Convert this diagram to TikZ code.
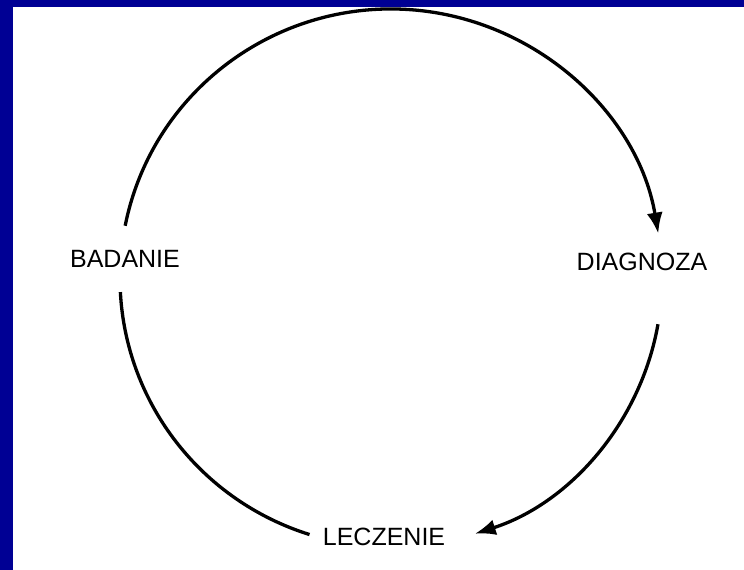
\documentclass[tikz,border=0pt]{standalone}
\usepackage{fontspec}
\setmainfont{Liberation Sans}
\usetikzlibrary{arrows.meta, calc}
\definecolor{slideblue}{RGB}{0,0,148}
\tikzset{
  stage/.style = {font=\fontsize{25}{30}\selectfont, inner sep=2pt},
  cycle/.style = {line width=3.3pt, -{Latex[length=21pt, width=16pt]}},
  loop/.style  = {line width=3.3pt},
}
\begin{document}
\begin{tikzpicture}[x=1pt, y=1pt]
  % slide frame
  \fill[slideblue] (0,0) rectangle (744,570);
  \fill[white] (13,0) rectangle (744,563);
  \useasboundingbox (0,0) rectangle (744,570);
  % stages
  \node[stage] (badanie)  at (125,311) {BADANIE};
  \node[stage] (diagnoza) at (642,308) {DIAGNOZA};
  \node[stage] (leczenie) at (384,33)  {LECZENIE};
  % ends of the arcs on the ellipse
  \coordinate (a1) at ($(391,292)+(168.8:271 and 269)$);
  \coordinate (a2) at ($(391,292)+(-9.9:271 and 269)$);
  \coordinate (a3) at ($(391,292)+(-107.5:271 and 269)$);
  \draw[cycle] (a1) arc[start angle=168.8, end angle=9.5, x radius=271, y radius=269];
  \draw[cycle] (a2) arc[start angle=-9.9, end angle=-72, x radius=271, y radius=269];
  \draw[loop]  (a3) arc[start angle=-107.5, end angle=-177, x radius=271, y radius=269];
\end{tikzpicture}
\end{document}
